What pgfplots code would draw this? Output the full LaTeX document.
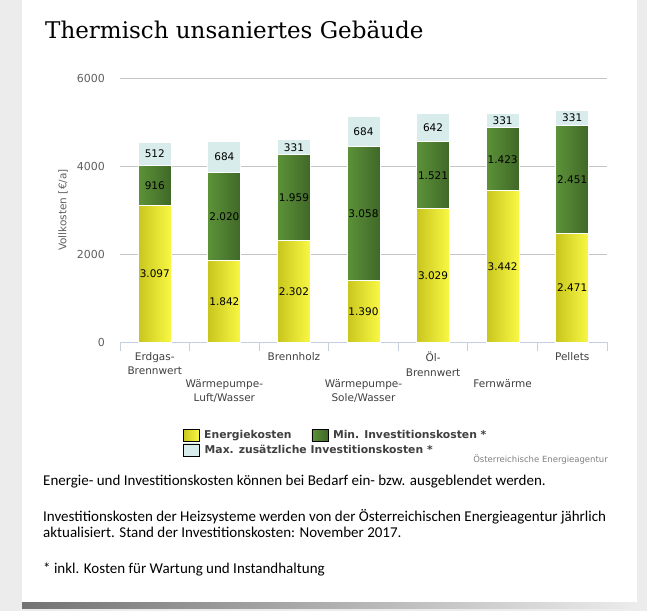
\documentclass[border=0pt]{standalone}
\usepackage{pgfplots}
\pgfplotsset{compat=1.18}
\usepackage{pgfplotstable}
\usepackage{fontspec}
\setmainfont{DejaVu Sans}
\newfontfamily\titlefont{DejaVu Serif}
\newfontfamily\bodyfont{Carlito}
\definecolor{bgpat}{HTML}{ECECEC}
\definecolor{ylL}{RGB}{200,198,30}
\definecolor{ylR}{RGB}{250,248,68}
\definecolor{grL}{RGB}{92,146,56}
\definecolor{grR}{RGB}{64,104,40}
\definecolor{cy}{HTML}{D8ECEC}
\definecolor{gridc}{HTML}{C4C4C4}
\definecolor{axc}{HTML}{C4D0DE}
\definecolor{tickc}{HTML}{606060}
\definecolor{labc}{HTML}{404040}
\pgfplotsset{/pgf/number format/assume math mode=true}

\pgfplotstableread{
idx energie mininv maxinv
0 3097 916 512
1 1842 2020 684
2 2302 1959 331
3 1390 3058 684
4 3029 1521 642
5 3442 1423 331
6 2471 2451 331
}\costs

\pgfplotsset{
  seg/.style 2 args={
    only marks, mark=*, mark size=0pt, mark options={draw=none, fill=none},
    scatter,
    visualization depends on={rawy \as \rawy},
    scatter/@pre marker code/.code={%
      \shadedraw[left color=#1, right color=#2, draw=white, line width=1pt]
        (-16.5pt,0pt) rectangle (16.5pt,{-0.044pt*\rawy});
      \node[anchor=center, inner sep=0pt, font=\fontsize{10.5}{12}\selectfont, text=black]
        at (0pt,{-0.022pt*\rawy}) {\pgfmathprintnumber[1000 sep={.}]{\rawy}};
    },
    scatter/@post marker code/.code={},
    legend image code/.code={\shade[left color=#1, right color=#2] (0pt,-6pt) rectangle (16pt,6pt);},
  },
}

\begin{document}
\begin{tikzpicture}[x=1pt,y=1pt]
\useasboundingbox (0,0) rectangle (647,611);
\fill[bgpat] (0,0) rectangle (647,611);
\shade[left color=black!55, right color=bgpat] (22,3) rectangle (637,9);
\fill[white] (22,9) rectangle (637,611);
\node[anchor=base west, font=\titlefont\fontsize{23}{27}\selectfont, inner sep=0pt] at (45,572) {Thermisch unsaniertes Gebäude};
\begin{axis}[
  at={(120pt,269pt)}, anchor=south west,
  scale only axis, width=487pt, height=264pt,
  stack plots=y,
  xmin=-0.5, xmax=6.5, ymin=0, ymax=6000,
  ytick={0,2000,4000,6000},
  ymajorgrids, grid style={gridc, line width=1pt},
  axis x line*=bottom, axis y line*=left,
  x axis line style={axc, line width=1pt, -},
  y axis line style={draw=none},
  major tick length=0pt,
  minor xtick={-0.5,0.5,...,6.5},
  minor tick length=9pt,
  tick align=outside,
  xminorgrids=false,
  minor x tick style={axc, line width=1pt},
  major tick style={draw=none},
  xtick={0,2,4,6},
  xticklabels={{Erdgas-\\Brennwert},Brennholz,{Öl-\\Brennwert},Pellets},
  extra x ticks={1,3,5},
  extra x tick labels={{Wärmepumpe-\\Luft/Wasser},{Wärmepumpe-\\Sole/Wasser},Fernwärme},
  extra x tick style={grid=none, major tick style={draw=none}, xticklabel style={yshift=-27pt}},
  xticklabel style={font=\fontsize{10.5}{14.5}\selectfont, text=labc, align=center, anchor=north, inner sep=0pt, yshift=-10pt},
  yticklabel style={font=\fontsize{11}{13}\selectfont, text=tickc, anchor=east, inner sep=0pt, xshift=-15pt, /pgf/number format/1000 sep={}},
  ylabel={Vollkosten [€/a]},
  every axis y label/.style={at={(axis description cs:-0.117,0.5)}, rotate=90, anchor=center, font=\fontsize{10.5}{12}\selectfont, text=tickc},
  legend columns=2,
  legend cell align=left,
  legend style={at={(axis description cs:0.129,-0.33)}, anchor=north west, draw=none, fill=none, inner sep=0pt, outer sep=0pt, font=\bfseries\fontsize{10.8}{12}\selectfont, text=labc, row sep=2pt, nodes={inner sep=0pt, anchor=west}, /tikz/every odd column/.append style={column sep=5pt}, /tikz/every even column/.append style={column sep=20pt}},
]
\addplot[seg={ylL}{ylR}] table[x=idx, y=energie] {\costs};
\addplot[seg={grL}{grR}] table[x=idx, y=mininv] {\costs};
\addplot[seg={cy}{cy}] table[x=idx, y=maxinv] {\costs};
\legend{Energiekosten, Min. Investitionskosten *, \rlap{Max. zusätzliche Investitionskosten *}}
\end{axis}
\node[anchor=east, font=\fontsize{8.5}{10}\selectfont, text=gray, inner sep=0pt] at (608,151) {Österreichische Energieagentur};
\begin{scope}[every node/.style={anchor=base west, inner sep=0pt, font=\bodyfont\fontsize{15}{18}\selectfont}]
\node at (43,126) {Energie- und Investitionskosten können bei Bedarf ein- bzw. ausgeblendet werden.};
\node at (43,90) {Investitionskosten der Heizsysteme werden von der Österreichischen Energieagentur jährlich};
\node at (43,74) {aktualisiert. Stand der Investitionskosten: November 2017.};
\node at (43,38) {* inkl. Kosten für Wartung und Instandhaltung};
\end{scope}
\end{tikzpicture}
\end{document}
